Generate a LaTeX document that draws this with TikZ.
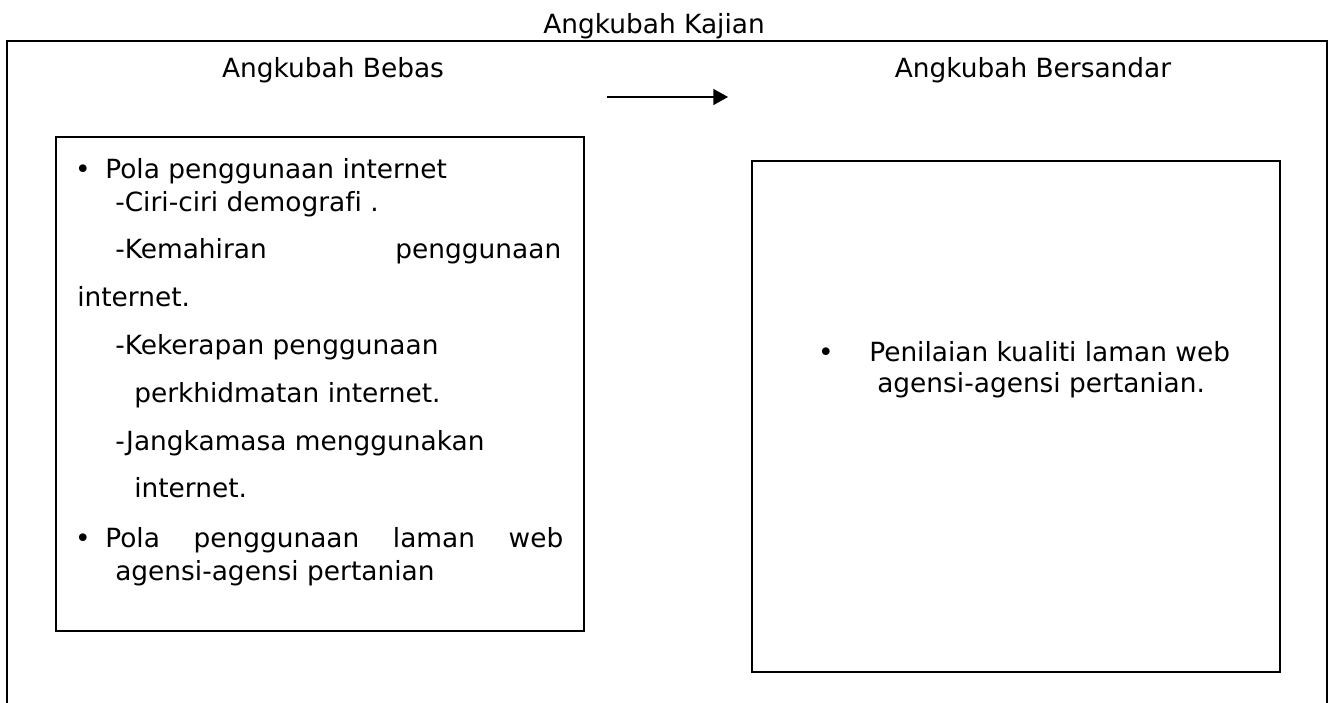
\documentclass[tikz,border=0pt]{standalone}
\usepackage{fontspec}
\setmainfont{DejaVu Sans}[Ligatures=NoCommon]
\usetikzlibrary{arrows.meta}

\newcommand{\kfont}{\fontsize{19.8}{24}\selectfont}

\tikzset{
    frame/.style={line width=1.5pt},
    varbox/.style={draw, rectangle, line width=1.8pt, inner sep=0pt},
    head/.style={anchor=base, inner sep=0pt, font=\kfont},
    txt/.style={anchor=base west, inner sep=0pt, font=\kfont},
    dot/.style={anchor=base, inner sep=0pt, font=\kfont}
}

\begin{document}
\begin{tikzpicture}[x=0.75pt, y=-0.75pt]
    \useasboundingbox (0, 0) rectangle (1329, 703);

        \coordinate(fBL) at (7, 703);
        \coordinate(fTL) at (7, 41);
        \coordinate(fTR) at (1327, 41);
        \coordinate(fBR) at (1327, 703);
        \coordinate(arrS) at (607, 97);
        \coordinate(arrE) at (728, 97);
        \draw[frame] (fBL) -- (fTL) -- (fTR) -- (fBR);
        \draw[-{Triangle[length=11pt, width=12pt]}, line width=1pt] (arrS) -- (arrE);

        \node[varbox, minimum width=396pt, minimum height=370.5pt] (bebas) at (320, 384) {};
        \node[varbox, minimum width=396pt, minimum height=383.25pt] (bersandar) at (1016, 416.5) {};

        \node[head] (kajian) at (654, 33) {Angkubah Kajian};
        \node[head] (hbebas) at (333, 77) {Angkubah Bebas};
        \node[head] (hbersandar) at (1033, 77) {Angkubah Bersandar};

        % angkubah bebas
        \node[dot] (b1) at (83, 178) {•};
        \node[txt] (l1) at (105, 178) {Pola penggunaan internet};
        \node[txt] (l2) at (115, 211) {-Ciri-ciri demografi .};
        \node[txt] (l3) at (115, 258) {\makebox[334.5pt][s]{-Kemahiran penggunaan}};
        \node[txt] (l4) at (77, 306) {internet.};
        \node[txt] (l5) at (115, 354) {-Kekerapan penggunaan};
        \node[txt] (l6) at (134, 402) {perkhidmatan internet.};
        \node[txt] (l7) at (115, 450) {-Jangkamasa menggunakan};
        \node[txt] (l8) at (134, 497) {internet.};
        \node[dot] (b2) at (83, 547) {•};
        \node[txt] (l9) at (105, 547) {\makebox[343.5pt][s]{Pola penggunaan laman web}};
        \node[txt] (l10) at (115, 580) {agensi-agensi pertanian};

        % angkubah bersandar
        \node[dot] (b3) at (826, 361) {•};
        \node[txt] (r1) at (869, 361) {Penilaian kualiti laman web};
        \node[txt] (r2) at (877, 392) {agensi-agensi pertanian.};

    \end{tikzpicture}
\end{document}
